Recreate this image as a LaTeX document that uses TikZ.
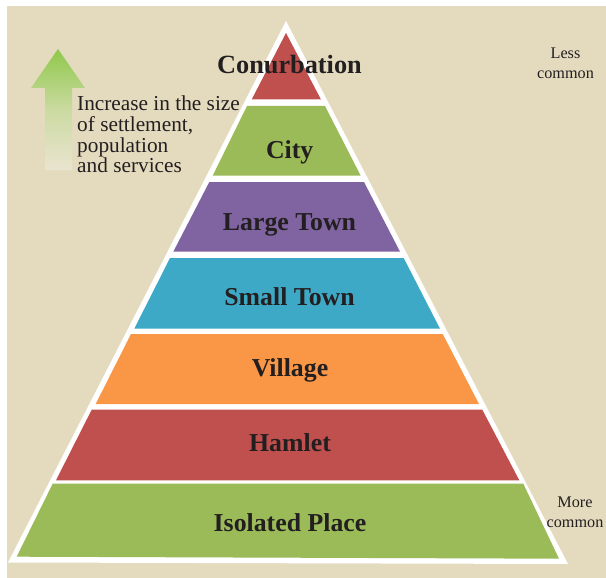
\documentclass[tikz,border=0pt]{standalone}
\usepackage{fontspec}
\setmainfont{Liberation Serif}
\definecolor{bgbeige}{HTML}{E4DBBF}
\definecolor{ink}{HTML}{231F20}
\definecolor{lvlred}{HTML}{C0504D}
\definecolor{lvlgreen}{HTML}{9BBB59}
\definecolor{lvlpurple}{HTML}{8064A2}
\definecolor{lvlteal}{HTML}{3EA9C6}
\definecolor{lvlorange}{HTML}{F99746}
\definecolor{arrowtop}{HTML}{8FC84A}
\definecolor{arrowbot}{HTML}{EAE4D0}
\tikzset{
  levellabel/.style={anchor=base,text=ink,inner sep=0pt,font=\fontsize{25.8}{28}\selectfont\bfseries},
  toplabel/.style={levellabel,font=\fontsize{26.3}{28}\selectfont\bfseries},
  sidenote/.style={anchor=base,text=ink,inner sep=0pt,font=\fontsize{16.2}{19}\selectfont},
  notetext/.style={anchor=base west,text=ink,inner sep=0pt,font=\fontsize{21.3}{24}\selectfont},
}
\begin{document}
\begin{tikzpicture}[x=1pt,y=-1pt]
\useasboundingbox (0,0) rectangle (606,578);
\fill[white] (0,0) rectangle (606,578);
\fill[bgbeige] (7,6) rectangle (606,578);
\fill[white] (286,21) -- (568,564) -- (8,562.5) -- cycle;
\fill[lvlred] (286,33) -- (321,99.5) -- (251.7,99.5) -- cycle;
\fill[lvlgreen] (247,106) -- (325,106) -- (360.7,175.7) -- (212.7,175.7) -- cycle;
\fill[lvlpurple] (209.3,182) -- (364,182) -- (400,251.7) -- (173.3,251.7) -- cycle;
\fill[lvlteal] (170,258) -- (403.7,258) -- (440,328.7) -- (134.3,328.7) -- cycle;
\fill[lvlorange] (131,334) -- (442.7,334) -- (479,404) -- (95.7,404) -- cycle;
\fill[lvlred] (91.7,409.7) -- (482.3,409.7) -- (519.3,480.3) -- (56,480.3) -- cycle;
\fill[lvlgreen] (52.7,483.7) -- (523.3,483.7) -- (559,558.7) -- (16.7,556.7) -- cycle;
\shade[top color=arrowtop,bottom color=arrowbot,middle color=arrowtop!35!arrowbot]
  (58,49) -- (85,88) -- (72,88) -- (72,170) -- (45,170) -- (45,88) -- (31,88) -- cycle;
\node[toplabel] (conurbation) at (289.5,74) {Conurbation};
\node[levellabel] (city) at (289.7,158) {City};
\node[levellabel] (largetown) at (289.5,230) {Large Town};
\node[levellabel] (smalltown) at (289.5,305.5) {Small Town};
\node[levellabel] (village) at (290,376.5) {Village};
\node[levellabel] (hamlet) at (290,451.5) {Hamlet};
\node[levellabel] (isolated) at (290,531.5) {Isolated Place};
\node[notetext] (note1) at (77,110.5) {Increase in the size};
\node[notetext] (note2) at (77,131.5) {of settlement,};
\node[notetext] (note3) at (77,152.5) {population};
\node[notetext] (note4) at (77,172.5) {and services};
\node[sidenote] (less) at (565.5,58.5) {Less};
\node[sidenote] (lesscommon) at (565.5,79) {common};
\node[sidenote] (more) at (575,507) {More};
\node[sidenote] (morecommon) at (575,527.5) {common};
\end{tikzpicture}
\end{document}
